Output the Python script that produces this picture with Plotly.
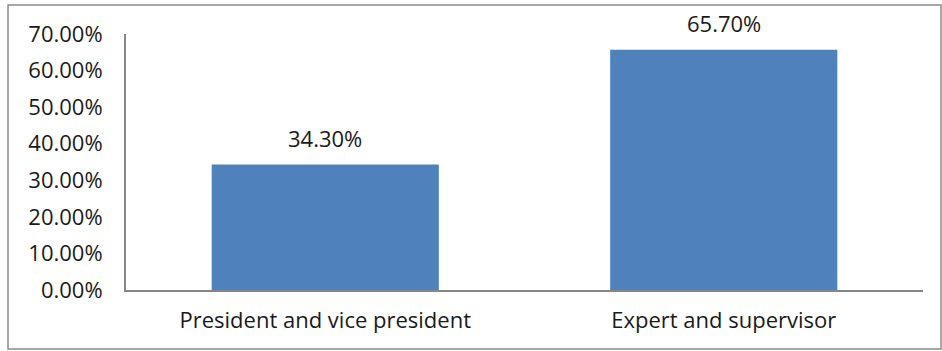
import plotly.graph_objects as go

categories = ["President and vice president", "Expert and supervisor"]
values = [0.343, 0.657]
tick_vals = [0, 0.1, 0.2, 0.3, 0.4, 0.5, 0.6, 0.7]

W, H = 942, 351
L, R, T, B = 126, 19, 34, 61
pw, ph = W - L - R, H - T - B

FONT = "Open Sans"
FS = 22
TXT = "#1a1a1a"
fig = go.Figure(go.Bar(
    x=categories, y=values,
    marker=dict(color="#4F81BD", line=dict(width=0)),
    width=0.57,
))

for c, v in zip(categories, values):
    fig.add_annotation(x=c, y=v, text=f"{v*100:.2f}%", showarrow=False,
                       yanchor="bottom", yshift=10,
                       font=dict(family=FONT, size=FS, color=TXT))

def px(x):
    return (x - L) / pw

def py(y):
    return 1 - (y - T) / ph

fig.add_shape(type="rect", xref="paper", yref="paper",
              x0=px(8), x1=px(941), y0=py(349), y1=py(5),
              line=dict(color="#8c8c8c", width=1.5), fillcolor="rgba(0,0,0,0)", layer="below")

fig.update_layout(
    width=W, height=H, margin=dict(l=L, r=R, t=T, b=B),
    paper_bgcolor="white", plot_bgcolor="white",
    showlegend=False,
    font=dict(family=FONT, size=FS, color=TXT),
    xaxis=dict(showline=True, linecolor="#868686", linewidth=2, showgrid=False,
               ticks="", ticklabelstandoff=10,
               tickfont=dict(family=FONT, size=FS, color=TXT)),
    yaxis=dict(range=[0, 0.7], tickvals=tick_vals, tickformat=".2%",
               showline=True, linecolor="#868686", linewidth=2, showgrid=False,
               zeroline=False, ticks="", ticklabelstandoff=17,
               tickfont=dict(family=FONT, size=FS, color=TXT)),
)

fig.write_html("out.html")
